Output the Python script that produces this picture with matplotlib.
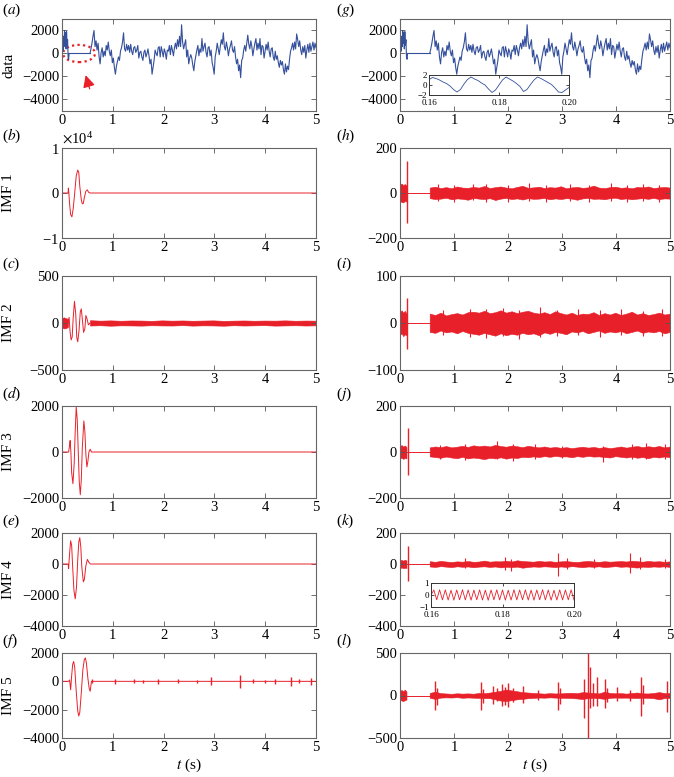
import numpy as np
import matplotlib
matplotlib.use("Agg")
import matplotlib.pyplot as plt
from matplotlib.patches import Ellipse
from matplotlib.ticker import ScalarFormatter

plt.rcParams['font.family'] = 'serif'
plt.rcParams['font.serif'] = ['Liberation Serif', 'DejaVu Serif']
plt.rcParams['mathtext.fontset'] = 'stix'

RED = '#e8202a'
BLUE = '#34509c'

# ---------------- data ----------------
# blue input signal, noisy part 0 - 0.13 s
data_pre_t = [0.0, 0.01, 0.02, 0.03, 0.04, 0.05, 0.06, 0.07, 0.08, 0.09, 0.10, 0.11, 0.12, 0.13, 0.14]
data_pre_v = [-400, 800, 200, 1500, 600, 2000, 900, 1800, 400, 1900, 700, 1200, -300, -500, 0]
# blue input signal, noisy part 0.55 - 5 s (one sample every 0.02 s)
data_vals = [0, 400, 900, 1500, 2000, 600, 1100, 300, 900, -300,
             -900, 100, 500, -300, 200, -200, 700, 300, 1000, 200,
             -200, 300, -800, -400, -1200, -1800, -1100, -700, -300, -600,
             200, 500, 1000, 1800, 400, 200, 800, 300, 700, 100,
             800, 200, -100, 500, 600, 100, 300, 700, -400, 100,
             200, -300, -600, 100, 300, -300, 0, 400, -200, -900,
             -500, -1800, -1200, -600, 300, 0, -200, 500, 600, -300,
             600, 200, -300, 400, 100, -500, 300, 200, 700, -100,
             700, 300, -200, 500, 900, 400, 1200, 600, 1500, 600,
             2500, 1000, 400, 800, 1200, -300, 300, -900, -400, -100,
             -400, -1000, -1500, -700, -200, 300, 700, -200, 400, 100,
             1300, 200, 600, 900, 100, -300, 500, 600, -200, 300,
             -800, -1200, -1800, -300, 200, 900, 400, -100, 600, 1200,
             800, 1800, 600, 300, 1000, 500, -200, 400, 700, 1100,
             300, 100, 600, -300, -900, -500, -1500, -1000, -2100, -600,
             -400, 300, 700, 200, 900, 1600, 800, 400, 1100, 600,
             -200, 400, 900, 1300, 300, 900, 400, 1300, -100, 700,
             600, -400, 200, 800, 300, 1000, 200, -300, 400, 500,
             -300, -600, 200, -500, -200, -800, -1200, -600, -1000, -700,
             -1400, -1800, -900, -1600, -1100, -1400, -500, 200, 500, 900,
             300, 1000, 400, 1700, 1200, 600, 1100, 300, -100, 600,
             100, 700, -400, 300, 800, 100, 900, 200, 600, 1000,
             300, 900, 500]

# zoomed insets 0.16 - 0.20 s
ins_g_vals = [1.1, 1.5, 1.3, 1.0, 0.6, 0.3, -0.2, -0.9, -1.4, -0.9, 0.2, 1.1, 1.6, 1.2, 0.9,
              0.4, 0.0, -0.8, -1.5, -1.0, 0.0, 1.0, 1.6, 1.2, 0.8, 0.3, -0.3, -1.3, -0.9, 0.1,
              1.0, 1.6, 1.3, 0.9, 0.5, 0.1, -0.6, -1.4, -1.5, -1.0, -0.5]
ins_k_vals = [0.0, 0.42, -0.40, 0.44, -0.41, 0.43, -0.42, 0.40, -0.43, 0.42, -0.40, 0.44,
              -0.41, 0.42, -0.43, 0.41, -0.40, 0.43, -0.42, 0.41, -0.44, 0.42, -0.40, 0.43,
              -0.41, 0.42, -0.43, 0.40, -0.42, 0.44, -0.41, 0.42, -0.40, 0.43, -0.42, 0.41,
              -0.43, 0.42, -0.40, 0.44, -0.41, 0.42, -0.43, 0.40, -0.42, 0.43, -0.41, 0.42,
              -0.40, 0.43, -0.42]

# left column IMFs (mode mixing burst between 0.12 and 0.58 s)
imf1_t = [0, 0.12, 0.125, 0.135, 0.15, 0.17, 0.195, 0.22, 0.25, 0.28, 0.31, 0.33, 0.35,
          0.38, 0.40, 0.42, 0.44, 0.47, 0.50, 0.52, 0.55, 5.0]
imf1_v = [0, 0, 1100, 0, -2500, -4800, -5300, -3500, 0, 3800, 5100, 4600, 1500,
          -1500, -2400, -2300, -1000, 400, 700, 200, 0, 0]

imf2_t = [0.12, 0.14, 0.16, 0.18, 0.20, 0.22, 0.245, 0.27, 0.29, 0.31, 0.335, 0.36,
          0.38, 0.40, 0.425, 0.45, 0.47, 0.49, 0.52, 0.55]
imf2_v = [0, 60, -100, -180, -150, 50, 230, 100, -150, -200, -80, 120,
          150, 40, -100, -60, 80, 50, -20, 0]
imf2_pre_t = [0, 0.04, 0.08, 0.12]
imf2_pre_hi = [55, 60, 50, 45]
imf2_pre_lo = [-50, -58, -55, -40]
imf2_hi = [30, 25, 28, 24, 27, 26, 23, 28, 25, 27, 24, 26, 28, 23, 25, 27, 24, 26, 25, 28, 24, 26, 25]
imf2_lo = [-27, -24, -29, -25, -26, -28, -24, -26, -27, -23, -28, -25, -26, -29, -24, -27,
           -25, -23, -28, -26, -24, -27, -25]

imf3_t = [0.0, 0.13, 0.15, 0.16, 0.175, 0.19, 0.215, 0.24, 0.26, 0.28, 0.30, 0.32, 0.34,
          0.36, 0.38, 0.40, 0.43, 0.45, 0.47, 0.49, 0.51, 0.53, 0.555, 0.58, 5.0]
imf3_v = [0, 0, 300, 500, 0, -900, -1380, -500, 900, 1960, 1400, 0, -1300,
          -1860, -1200, 200, 1350, 900, -100, -650, -400, 0, 120, 0, 0]

imf4_t = [0.0, 0.12, 0.13, 0.15, 0.17, 0.19, 0.21, 0.235, 0.26, 0.285, 0.31, 0.33, 0.35,
          0.37, 0.39, 0.42, 0.44, 0.47, 0.50, 0.53, 0.56, 5.0]
imf4_v = [0, 0, -300, 700, 1500, 1200, -200, -1700, -2250, -1500, 300, 1400, 1700,
          1100, -200, -1150, -1000, -100, 300, 100, 0, 0]

imf5_t = [0.0, 0.13, 0.15, 0.17, 0.19, 0.21, 0.23, 0.25, 0.28, 0.31, 0.33, 0.35, 0.38,
          0.41, 0.44, 0.46, 0.48, 0.51, 0.535, 0.555, 0.58, 5.0]
imf5_v = [0, 0, 100, -600, 400, 1200, 1400, 1000, -700, -2100, -2450, -2200, -800,
          800, 1550, 1650, 1300, 200, -500, -700, 0, 0]
imf5_spike_t = [0.60, 1.05, 1.41, 1.59, 1.88, 2.29, 2.65, 2.93, 3.50, 3.75, 4.00, 4.20, 4.50, 4.67, 4.91]
imf5_spike_a = [150, 170, 150, 120, 200, 150, 120, 280, 450, 150, 120, 170, 320, 150, 260]

# right column IMFs: band before 0.12 s, single spike, band after 0.55 s, plus peaks
pre_t = [0, 0.03, 0.06, 0.09, 0.12]
h_pre_hi = [38, 42, 35, 40, 33]
h_pre_lo = [-36, -40, -42, -35, -38]
h_spike = (0.135, 142, -133)
h_hi = [24, 28, 22, 26, 21, 29, 24, 23, 27, 24, 31, 22, 26, 29, 24, 21, 27, 32, 23, 25, 28, 22, 26,
        24, 30, 21, 25, 27, 23, 25, 33, 24, 22, 26, 28, 23, 25, 21, 27, 25, 29, 22, 25, 27, 24]
h_lo = [-23, -27, -25, -21, -28, -24, -26, -30, -22, -25, -27, -23, -31, -25, -22, -27, -24, -29,
        -23, -26, -25, -22, -28, -24, -27, -23, -25, -30, -24, -22, -26, -25, -28, -23, -21, -27,
        -24, -28, -25, -23, -26, -22, -27, -24, -25]
h_peaks = [(0.70, 38, -35), (1.00, 35, -40), (1.35, 40, -33), (1.60, 42, -38), (2.00, 37, -42),
           (2.38, 46, -36), (2.70, 36, -40), (3.15, 40, -35), (3.50, 35, -41), (3.90, 43, -37),
           (4.20, 36, -39), (4.50, 38, -34), (4.80, 35, -40)]

i_pre_hi = [24, 27, 22, 26, 20]
i_pre_lo = [-25, -22, -28, -24, -26]
i_spike = (0.135, 53, -55)
i_hi = [20, 17, 22, 16, 19, 21, 18, 23, 24, 22, 26, 21, 23, 27, 22, 25, 21, 24, 26, 22, 20, 23, 19,
        25, 21, 18, 22, 17, 20, 19, 23, 17, 21, 18, 22, 17, 20, 24, 18, 21, 17, 19, 22, 18, 20]
i_lo = [-19, -21, -16, -20, -18, -22, -17, -21, -23, -25, -21, -24, -27, -22, -26, -23, -25, -21,
        -24, -22, -26, -20, -23, -19, -21, -24, -18, -20, -17, -22, -19, -16, -21, -18, -20, -17,
        -22, -19, -16, -21, -18, -20, -17, -22, -19]
i_peaks = [(0.80, 28, -26), (1.30, 30, -29), (1.60, 29, -31), (1.90, 32, -27), (2.20, 27, -33),
           (2.60, 33, -30), (2.90, 28, -27), (3.30, 30, -25), (3.70, 27, -29), (4.10, 29, -26),
           (4.50, 26, -28), (4.85, 30, -27)]

j_pre_hi = [26, 30, 24, 28, 22]
j_pre_lo = [-27, -25, -30, -26, -28]
j_spike = (0.14, 103, -99)
j_hi = [20, 24, 21, 26, 20, 23, 27, 22, 29, 25, 28, 24, 31, 26, 23, 28, 25, 21, 27, 23, 20, 24, 19,
        22, 18, 21, 17, 20, 23, 19, 22, 18, 21, 17, 20, 24, 19, 23, 26, 21, 25, 22, 26, 20, 24]
j_lo = [-19, -22, -25, -20, -24, -27, -21, -28, -24, -27, -31, -25, -28, -23, -29, -24, -26, -21,
        -23, -19, -22, -18, -21, -17, -20, -19, -23, -18, -21, -17, -20, -19, -22, -24, -18, -21,
        -24, -20, -25, -22, -27, -21, -24, -19, -23]
j_peaks = [(0.75, 32, -30), (1.20, 35, -33), (1.80, 46, -30), (2.10, 36, -38), (2.50, 33, -30),
           (3.00, 28, -27), (3.76, 25, -44), (4.30, 33, -30), (4.55, 40, -32), (4.90, 35, -30)]

k_pre_hi = [24, 26, 22, 27, 23]
k_pre_lo = [-25, -23, -27, -24, -26]
k_spike = (0.14, 113, -109)
k_hi = [18, 14, 20, 16, 13, 17, 15, 19, 14, 16, 22, 15, 18, 17, 21, 16, 24, 19, 17, 15, 20, 16, 18,
        14, 17, 19, 15, 13, 17, 20, 16, 14, 18, 15, 17, 19, 16, 21, 18, 15, 20, 16, 18, 14, 17]
k_lo = [-16, -19, -14, -17, -20, -15, -18, -16, -21, -17, -15, -19, -16, -22, -18, -20, -17, -24,
        -19, -16, -18, -15, -17, -20, -16, -19, -14, -17, -21, -16, -18, -15, -20, -17, -14, -18,
        -16, -20, -23, -17, -19, -16, -18, -15, -19]
k_peaks = [(1.20, 40, -25), (1.95, 45, -40), (2.05, 35, -42), (2.93, 72, -78), (3.10, 40, -30),
           (3.60, 30, -25), (4.26, 70, -60), (4.45, 42, -35), (4.90, 32, -28)]

l_pre_hi = [55, 65, 50, 70, 45]
l_pre_lo = [-50, -60, -65, -55, -48]
l_hi = [30, 45, 28, 24, 20, 26, 22, 25, 21, 30, 27, 35, 45, 55, 70, 60, 50, 40, 35, 30, 26, 22, 28,
        24, 25, 30, 32, 28, 40, 35, 30, 25, 45, 30, 26, 28, 22, 30, 35, 25, 24, 30, 40, 28, 30]
l_lo = [-28, -40, -25, -22, -24, -20, -27, -23, -26, -28, -30, -32, -45, -60, -65, -55, -45, -40,
        -32, -28, -24, -26, -22, -25, -27, -28, -30, -35, -42, -30, -28, -32, -40, -28, -24, -26,
        -25, -28, -30, -26, -28, -32, -45, -30, -28]
l_peaks = [(0.64, 165, -170), (0.68, 90, -110), (1.50, 157, -176), (1.53, 80, -90),
           (1.73, 110, -100), (1.80, 90, -70), (1.88, 140, -120), (1.95, 100, -110),
           (2.00, 150, -130), (2.09, 90, -80), (2.28, 110, -90), (2.56, 60, -50),
           (2.93, 157, -176), (2.96, 90, -100), (3.40, 196, -267), (3.49, 500, -510),
           (3.52, 330, -150), (3.58, 150, -120), (3.64, 220, -120), (3.80, 195, -150),
           (3.83, 90, -80), (4.02, 100, -70), (4.25, 70, -60), (4.47, 215, -245),
           (4.50, 120, -100), (4.94, 176, -196)]

T_START = 0.55
T_END = 5.0

# ---------------- layout ----------------
W, H = 674, 777
fig = plt.figure(figsize=(W / 100, H / 100), dpi=100)

rows_px = [(19, 111), (148, 238), (276, 370), (406, 498), (533, 626), (653, 738)]
cols_px = [(62, 316), (400, 670)]
label_x_px = [2, 336]


def make_axes(col, row):
    x0, x1 = cols_px[col]
    y0, y1 = rows_px[row]
    return fig.add_axes([x0 / W, 1 - y1 / H, (x1 - x0) / W, (y1 - y0) / H])


def style(ax, ylim, yticks, size=10.5):
    ax.set_xlim(0, 5)
    ax.set_ylim(*ylim)
    ax.set_xticks(range(6))
    ax.set_yticks(yticks)
    ax.tick_params(direction='in', top=True, right=True, length=3.5, width=0.6,
                   color='#555555', labelsize=size, pad=2)
    for s in ax.spines.values():
        s.set_color('#666666')
        s.set_linewidth(0.8)


def band(ax, t, hi, lo, color=RED):
    ax.fill_between(t, lo, hi, color=color, lw=0.4, edgecolor=color)


def peaks(ax, items, lw=0.8):
    for pt, phi, plo in items:
        ax.vlines(pt, plo, phi, color=RED, lw=lw)


def right_panel(ax, pre_hi, pre_lo, spike, hi, lo, extra=()):
    band(ax, pre_t, pre_hi, pre_lo)
    ax.vlines(spike[0], spike[2], spike[1], color=RED, lw=1.0)
    ax.plot([pre_t[-1], T_START], [0, 0], color=RED, lw=0.7)
    band(ax, np.linspace(T_START, T_END, len(hi)), hi, lo)
    peaks(ax, extra)


def panel_label(col, row, letter):
    top = rows_px[row][0]
    yc = max(top - 12, 10)
    fig.text(label_x_px[col] / W, 1 - yc / H, r"($%s$)" % letter,
             fontsize=11, ha='left', va='center')


def ylabel(ax, text):
    ax.set_ylabel(text, fontsize=11)
    ax.yaxis.set_label_coords(-0.185, 0.5)


data_t = np.linspace(T_START, T_END, len(data_vals))

# ---------- (a) ----------
ax = make_axes(0, 0)
ax.plot(data_pre_t, data_pre_v, color=BLUE, lw=0.8)
ax.plot([data_pre_t[-1], T_START], [0, 0], color=BLUE, lw=0.8)
ax.plot(data_t, data_vals, color=BLUE, lw=0.8)
ax.add_patch(Ellipse((0.335, 0), 0.63, 1500, fill=False, ec=RED, ls=(0, (1, 1.5)), lw=1.6))
ax.annotate('', xy=(0.45, -1650), xytext=(0.56, -3300),
            arrowprops=dict(arrowstyle='-|>', color=RED, lw=0.9, mutation_scale=18))
style(ax, (-5000, 3000), [-4000, -2000, 0, 2000])
ylabel(ax, 'data')
panel_label(0, 0, 'a')

# ---------- (b)-(f) ----------
ax = make_axes(0, 1)
ax.plot(imf1_t, imf1_v, color=RED, lw=0.7)
style(ax, (-1e4, 1e4), [-1e4, 0, 1e4])
fmt = ScalarFormatter(useMathText=True)
fmt.set_powerlimits((0, 0))
ax.yaxis.set_major_formatter(fmt)
ax.yaxis.get_offset_text().set_fontsize(10.5)
ylabel(ax, 'IMF 1')
panel_label(0, 1, 'b')

ax = make_axes(0, 2)
band(ax, imf2_pre_t, imf2_pre_hi, imf2_pre_lo)
ax.plot(imf2_t, imf2_v, color=RED, lw=0.7)
band(ax, np.linspace(T_START, T_END, len(imf2_hi)), imf2_hi, imf2_lo)
style(ax, (-500, 500), [-500, 0, 500])
ylabel(ax, 'IMF 2')
panel_label(0, 2, 'c')

ax = make_axes(0, 3)
ax.plot(imf3_t, imf3_v, color=RED, lw=0.7)
style(ax, (-2000, 2000), [-2000, 0, 2000])
ylabel(ax, 'IMF 3')
panel_label(0, 3, 'd')

ax = make_axes(0, 4)
ax.plot(imf4_t, imf4_v, color=RED, lw=0.7)
style(ax, (-4000, 2000), [-4000, -2000, 0, 2000])
ylabel(ax, 'IMF 4')
panel_label(0, 4, 'e')

ax = make_axes(0, 5)
ax.plot(imf5_t, imf5_v, color=RED, lw=0.7)
ax.vlines(imf5_spike_t, [-a for a in imf5_spike_a], imf5_spike_a, color=RED, lw=1.0)
style(ax, (-4000, 2000), [-4000, -2000, 0, 2000])
ylabel(ax, 'IMF 5')
ax.set_xlabel(r'$t$ (s)', fontsize=11, labelpad=2)
panel_label(0, 5, 'f')

# ---------- (g) ----------
ax = make_axes(1, 0)
ax.plot(data_pre_t, data_pre_v, color=BLUE, lw=0.8)
ax.plot([data_pre_t[-1], T_START], [0, 0], color=BLUE, lw=0.8)
ax.plot(data_t, data_vals, color=BLUE, lw=0.8)
style(ax, (-5000, 3000), [-4000, -2000, 0, 2000])
panel_label(1, 0, 'g')


def inset(rect, vals, color, ylim, yticks):
    ins = fig.add_axes(rect)
    ins.plot(np.linspace(0.16, 0.20, len(vals)), vals, color=color, lw=0.6)
    ins.set_xlim(0.16, 0.20)
    ins.set_ylim(*ylim)
    ins.set_xticks([0.16, 0.18, 0.20])
    ins.set_xticklabels(['0.16', '0.18', '0.20'])
    ins.set_yticks(yticks)
    ins.tick_params(direction='in', top=True, right=True, length=2, width=0.5,
                    labelsize=6.5, pad=1.5)
    ins.tick_params(axis='x', pad=3)
    for s in ins.spines.values():
        s.set_color('#333333')
        s.set_linewidth(0.7)
    return ins


inset([429 / W, 1 - 95 / H, 140 / W, 20 / H], ins_g_vals, BLUE, (-2, 2), [-2, 0, 2])

# ---------- (h)-(l) ----------
ax = make_axes(1, 1)
right_panel(ax, h_pre_hi, h_pre_lo, h_spike, h_hi, h_lo, h_peaks)
style(ax, (-200, 200), [-200, 0, 200])
panel_label(1, 1, 'h')

ax = make_axes(1, 2)
right_panel(ax, i_pre_hi, i_pre_lo, i_spike, i_hi, i_lo, i_peaks)
style(ax, (-100, 100), [-100, 0, 100])
panel_label(1, 2, 'i')

ax = make_axes(1, 3)
right_panel(ax, j_pre_hi, j_pre_lo, j_spike, j_hi, j_lo, j_peaks)
style(ax, (-200, 200), [-200, 0, 200])
panel_label(1, 3, 'j')

ax = make_axes(1, 4)
right_panel(ax, k_pre_hi, k_pre_lo, k_spike, k_hi, k_lo, k_peaks)
style(ax, (-400, 200), [-400, -200, 0, 200])
panel_label(1, 4, 'k')

inset([431 / W, 1 - 607 / H, 143 / W, 24 / H], ins_k_vals, RED, (-1, 1), [-1, 0, 1])

ax = make_axes(1, 5)
band(ax, pre_t, l_pre_hi, l_pre_lo)
ax.plot([pre_t[-1], T_START], [0, 0], color=RED, lw=0.7)
band(ax, np.linspace(T_START, T_END, len(l_hi)), l_hi, l_lo)
peaks(ax, l_peaks, lw=1.0)
style(ax, (-500, 500), [-500, 0, 500])
ax.set_xlabel(r'$t$ (s)', fontsize=11, labelpad=2)
panel_label(1, 5, 'l')

fig.savefig('out.png', dpi=100)
